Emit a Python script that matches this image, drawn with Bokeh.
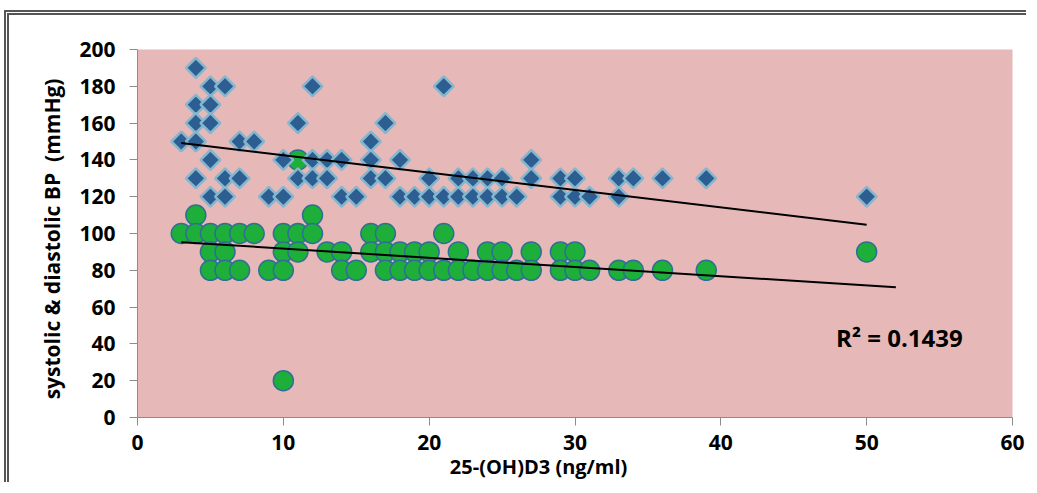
import math
from bokeh.plotting import figure
from bokeh.embed import file_html
from bokeh.resources import INLINE
from bokeh.core.properties import value
from bokeh.models import FixedTicker, Range1d

# ---- data ----
sys_x = [4,
         5, 6, 12, 21,
         4, 5,
         4, 5, 11, 17,
         3, 4, 7, 8, 16,
         5, 10, 12, 13, 14, 16, 18, 27,
         4, 6, 7, 11, 12, 13, 16, 17, 20, 22, 23, 24, 25, 27, 29, 30, 33, 34, 36, 39,
         5, 6, 9, 10, 14, 15, 18, 19, 20, 21, 22, 23, 24, 25, 26, 29, 30, 31, 33, 50]
sys_y = [190,
         180, 180, 180, 180,
         170, 170,
         160, 160, 160, 160,
         150, 150, 150, 150, 150,
         140, 140, 140, 140, 140, 140, 140, 140,
         130, 130, 130, 130, 130, 130, 130, 130, 130, 130, 130, 130, 130, 130, 130, 130, 130, 130, 130, 130,
         120, 120, 120, 120, 120, 120, 120, 120, 120, 120, 120, 120, 120, 120, 120, 120, 120, 120, 120, 120]

dia_x = [11,
         4, 12,
         3, 4, 5, 6, 7, 8, 10, 11, 12, 16, 17, 21,
         5, 6, 10, 11, 13, 14, 16, 17, 18, 19, 20, 22, 24, 25, 27, 29, 30, 50,
         5, 6, 7, 9, 10, 14, 15, 17, 18, 19, 20, 21, 22, 23, 24, 25, 26, 27, 29, 30, 31, 33, 34, 36, 39,
         10]
dia_y = [140,
         110, 110,
         100, 100, 100, 100, 100, 100, 100, 100, 100, 100, 100, 100,
         90, 90, 90, 90, 90, 90, 90, 90, 90, 90, 90, 90, 90, 90, 90, 90, 90, 90,
         80, 80, 80, 80, 80, 80, 80, 80, 80, 80, 80, 80, 80, 80, 80, 80, 80, 80, 80, 80, 80, 80, 80, 80, 80,
         20]

sys_trend_x = [3, 50]
sys_trend_y = [149.2, 104.7]
dia_trend_x = [3, 52]
dia_trend_y = [95.3, 70.8]

x_ticks = [0, 10, 20, 30, 40, 50, 60]
y_ticks = [0, 20, 40, 60, 80, 100, 120, 140, 160, 180, 200]
x_title = "25-(OH)D3 (ng/ml)"
y_title = "systolic & diastolic BP\u00a0 (mmHg)"
r2_text = ["R\u00b2 = 0.1439"]
r2_x = [47.9]
r2_y = [43.4]

FONT = "Open Sans"

p = figure(width=1022, height=472, output_backend="svg", toolbar_location=None,
           x_range=Range1d(0, 60), y_range=Range1d(0, 200),
           min_border_left=128, min_border_right=19, min_border_top=34, min_border_bottom=70)
# outer chart frame (left and top edges, as in the cropped original)
p.styles = {"margin-left": "4px", "margin-top": "10px", "overflow": "hidden",
            "border-left": "5px double #555555", "border-top": "5px double #555555"}

p.background_fill_color = "#E6B9B8"
p.border_fill_color = "white"
p.outline_line_color = None
p.xgrid.visible = False
p.ygrid.visible = False

p.xaxis.ticker = FixedTicker(ticks=x_ticks)
p.yaxis.ticker = FixedTicker(ticks=y_ticks)
for ax in (p.xaxis[0], p.yaxis[0]):
    ax.axis_line_color = "#8c8c8c"
    ax.major_tick_line_color = "#8c8c8c"
    ax.major_tick_out = 8
    ax.major_tick_in = 0
    ax.minor_tick_line_color = None
    ax.major_label_text_font = FONT
    ax.major_label_text_font_style = "bold"
    ax.major_label_text_color = "black"
    ax.major_label_text_font_size = "21px"
    ax.axis_label_text_font = FONT
    ax.axis_label_text_font_style = "bold"
    ax.axis_label_text_color = "black"

p.yaxis.axis_label = y_title + "\u00a0" * 2
p.yaxis.axis_label_text_font_size = "21px"
# the x title sits left of centre in the original: pad its right side
p.xaxis.axis_label = x_title + "\u00a0" * 14
p.xaxis.axis_label_text_font_size = "20px"
p.yaxis.major_label_standoff = 14
p.xaxis.major_label_standoff = 9
p.yaxis.axis_label_standoff = 10
p.xaxis.axis_label_standoff = 0

# diastolic (green balls)
p.scatter(dia_x, dia_y, marker="circle", size=20, fill_color="#1DAF3A",
          line_color="#2F6F95", line_width=1.5)
# systolic (blue diamonds)
p.scatter(sys_x, sys_y, marker="square", angle=math.pi / 4, size=14,
          fill_color="#2C5E92", line_color="#86B6CE", line_width=2.5)

p.line(sys_trend_x, sys_trend_y, line_color="black", line_width=2)
p.line(dia_trend_x, dia_trend_y, line_color="black", line_width=2)

p.text(r2_x, r2_y, text=r2_text, text_font=value(FONT), text_font_style="bold",
       text_font_size="24px", text_color="black", text_align="left",
       text_baseline="middle")

open("out.html", "w").write(file_html(p, INLINE))
